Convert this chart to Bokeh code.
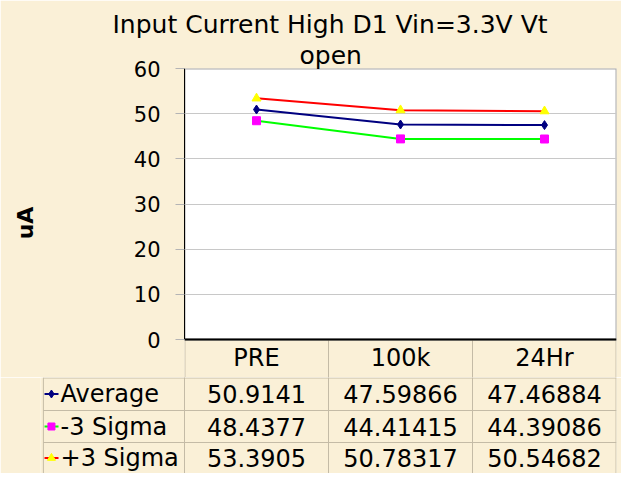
from bokeh.plotting import figure
from bokeh.models import Range1d, FactorRange, FixedTicker, Title
from bokeh.layouts import column
from bokeh.embed import file_html
from bokeh.resources import INLINE
from bokeh.core.properties import value

# ---------------- data ----------------
categories = ["PRE", "100k", "24Hr"]
series_names = ["Average", "-3 Sigma", "+3 Sigma"]
average = [50.9141, 47.59866, 47.46884]
minus_3_sigma = [48.4377, 44.41415, 44.39086]
plus_3_sigma = [53.3905, 50.78317, 50.54682]
y_ticks = [0, 10, 20, 30, 40, 50, 60]
title_lines = ["Input Current High D1 Vin=3.3V  Vt", "open"]
y_label = "uA"

series_values = [average, minus_3_sigma, plus_3_sigma]

# ---------------- styles ----------------
BG = "#FAF0D7"
FONT = "DejaVu Sans"
W = 621
line_colors = ["#000080", "#00FF00", "#FF0000"]
marker_types = ["diamond", "square", "triangle"]
marker_fill = ["#000080", "#FF00FF", "#FFFF00"]
marker_sizes = [9, 8, 9]
TABLE_LINE = "#C4BBA6"
PLOT_EDGE = "#A8A8A8"

# ---------------- chart (with header row of the table) ----------------
Y_BOTTOM = -8.413   # header row below the value axis
HEADER_Y = -4.2
pA = figure(width=W, height=377, x_range=FactorRange(*categories),
            y_range=Range1d(Y_BOTTOM, 60), output_backend="svg", toolbar_location=None,
            min_border_left=184, min_border_right=5, min_border_top=68,
            min_border_bottom=0, frame_align=False)
pA.title.text = title_lines[0]
pA.title.offset = -72
pA.add_layout(Title(text=title_lines[1], offset=115), "above")
for t in [pA.title] + [o for o in pA.above if isinstance(o, Title)]:
    t.align = "left"
    t.text_font = FONT
    t.text_font_size = "25px"
    t.text_font_style = "normal"
    t.text_color = "black"
pA.title.standoff = 4
for o in pA.above:
    if isinstance(o, Title):
        o.standoff = -3

pA.background_fill_color = BG
pA.border_fill_color = BG
pA.outline_line_color = None
pA.xaxis.visible = False
pA.xgrid.visible = False
pA.ygrid.grid_line_color = "#C8C8C8"
pA.ygrid.bounds = (0, 60)
pA.yaxis.bounds = (0, 60)
pA.yaxis.ticker = FixedTicker(ticks=y_ticks)
pA.yaxis.axis_line_color = "black"
pA.yaxis.major_tick_in = 0
pA.yaxis.major_tick_out = 9
pA.yaxis.major_tick_line_color = "#B4B4B4"
pA.yaxis.minor_tick_line_color = None
pA.yaxis.major_label_standoff = 15
pA.yaxis.major_label_text_font = FONT
pA.yaxis.major_label_text_font_size = "21px"
pA.yaxis.major_label_text_color = "black"
pA.yaxis.axis_label = y_label
pA.yaxis.axis_label_standoff = 93
pA.yaxis.axis_label_text_font = FONT
pA.yaxis.axis_label_text_font_size = "22px"
pA.yaxis.axis_label_text_font_style = "bold"
pA.yaxis.axis_label_text_color = "black"

# white plot area
pA.quad(left=[("PRE", -0.5)], right=[("24Hr", 0.5)], bottom=[0], top=[60],
        fill_color="white", line_color=PLOT_EDGE, line_width=2, level="image")
# header row separators and the category axis line
hx = [("PRE", -0.497), ("100k", -0.5), ("24Hr", -0.5), ("24Hr", 0.497)]
pA.segment(x0=hx, y0=[0] * 4, x1=hx, y1=[Y_BOTTOM - 1] * 4, line_color=TABLE_LINE, line_width=1)
pA.segment(x0=[("PRE", -0.5)], y0=[0], x1=[("24Hr", 0.5)], y1=[0], line_color="black", line_width=2)
pA.text(x=categories, y=[HEADER_Y] * 3, text=categories, text_align="center",
        text_baseline="middle", text_font=value(FONT), text_font_size="24px", text_color="black")

for vals, lc, mk, mf, ms in zip(series_values, line_colors, marker_types, marker_fill, marker_sizes):
    pA.line(x=categories, y=vals, line_color=lc, line_width=2)
    pA.scatter(x=categories, y=vals, marker=mk, size=ms, fill_color=mf, line_color=mf)

# ---------------- data table rows ----------------
pB = figure(width=W, height=96, x_range=FactorRange("series", *categories),
            y_range=Range1d(134, 38), output_backend="svg", toolbar_location=None,
            x_axis_location=None, y_axis_location=None, frame_align=False,
            min_border_left=40, min_border_right=5, min_border_top=0, min_border_bottom=0)
pB.grid.visible = False
pB.outline_line_color = None
pB.background_fill_color = BG
pB.border_fill_color = BG

ROW_Y = [54.5, 87, 118.5]
ROW_LINES = [38.5, 71, 103]
LEFT = ("series", -0.48)

vx = [("PRE", -0.5), ("100k", -0.5), ("24Hr", -0.5), ("24Hr", 0.497)]
pB.segment(x0=vx, y0=[30] * 4, x1=vx, y1=[140] * 4, line_color=TABLE_LINE, line_width=1)
pB.segment(x0=[LEFT], y0=[38], x1=[LEFT], y1=[140], line_color=TABLE_LINE, line_width=1)
pB.segment(x0=[LEFT] * 3, y0=ROW_LINES, x1=[("24Hr", 0.5)] * 3, y1=ROW_LINES,
           line_color=TABLE_LINE, line_width=1)

txt = dict(text_font=value(FONT), text_font_size="24px", text_color="black",
           text_baseline="middle")
for name, vals, yc, lc, mk, mf, ms in zip(series_names, series_values, ROW_Y, line_colors,
                                            marker_types, marker_fill, marker_sizes):
    pB.text(x=categories, y=[yc] * 3, text=[str(v) for v in vals], text_align="center", **txt)
    pB.text(x=[("series", -0.361)], y=[yc], text=[name], text_align="left", **txt)
    pB.segment(x0=[("series", -0.472)], y0=[yc], x1=[("series", -0.375)], y1=[yc],
               line_color=lc, line_width=2)
    pB.scatter(x=[("series", -0.424)], y=[yc], marker=mk, size=ms - 1,
               fill_color=mf, line_color=mf)

layout = column(pA, pB)
open("out.html", "w").write(file_html(layout, INLINE))
